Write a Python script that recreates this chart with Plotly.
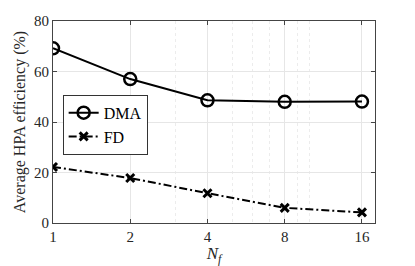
import plotly.graph_objects as go

nf = [1, 2, 4, 8, 16]
nf_labels = ["1", "2", "4", "8", "16"]
dma = [69.2, 57.0, 48.6, 48.0, 48.1]
fd = [22.2, 17.8, 11.8, 6.0, 4.2]
y_ticks = [0, 20, 40, 60, 80]
minor_x = [3, 5, 6, 7, 9, 10]

font = "Liberation Serif, Times New Roman, serif"

fig = go.Figure()
fig.add_trace(go.Scatter(
    x=nf, y=dma, name="DMA", mode="lines+markers",
    line=dict(color="black", width=2),
    marker=dict(symbol="circle-open", size=12, color="black", line=dict(width=2.5)),
))
fig.add_trace(go.Scatter(
    x=nf, y=fd, name="FD", mode="lines+markers",
    line=dict(color="black", width=2, dash="8px,3px,2px,3px"),
    marker=dict(symbol="x-thin-open", size=8, color="black", line=dict(width=3, color="black")),
))

fig.update_layout(
    width=407, height=258,
    margin=dict(l=45, r=40, t=13, b=43, autoexpand=False),
    paper_bgcolor="white", plot_bgcolor="white",
    font=dict(family=font, size=15, color="#262626"),
    showlegend=True,
    legend=dict(
        x=0.03, y=0.635, xanchor="left", yanchor="top",
        bgcolor="white", bordercolor="#333333", borderwidth=1,
        font=dict(family=font, size=16, color="black"),
        itemwidth=30, tracegroupgap=0,
    ),
)
fig.update_xaxes(
    type="log", range=[0, 1.255],
    tickvals=nf, ticktext=nf_labels,
    ticks="inside", ticklen=4, tickcolor="#444",
    showline=True, linecolor="#444", linewidth=1, mirror="ticks",
    showgrid=True, gridcolor="#e6e6e6", gridwidth=1,
    zeroline=False, automargin=False,
    minor=dict(tickvals=minor_x, showgrid=True, gridcolor="#ececec", griddash="dot", ticks=""),
    title=dict(text="<i>N<sub>f</sub></i>", font=dict(family=font, size=17, color="#262626"), standoff=3),
)
fig.update_yaxes(
    range=[0, 80], tickvals=y_ticks,
    ticks="inside", ticklen=4, tickcolor="#444",
    showline=True, linecolor="#444", linewidth=1, mirror="ticks",
    showgrid=True, gridcolor="#e6e6e6", gridwidth=1,
    zeroline=False, automargin=False,
    title=dict(text="Average HPA efficiency (%)", font=dict(family=font, size=16, color="#262626"), standoff=4),
)

fig.write_html("out.html")
